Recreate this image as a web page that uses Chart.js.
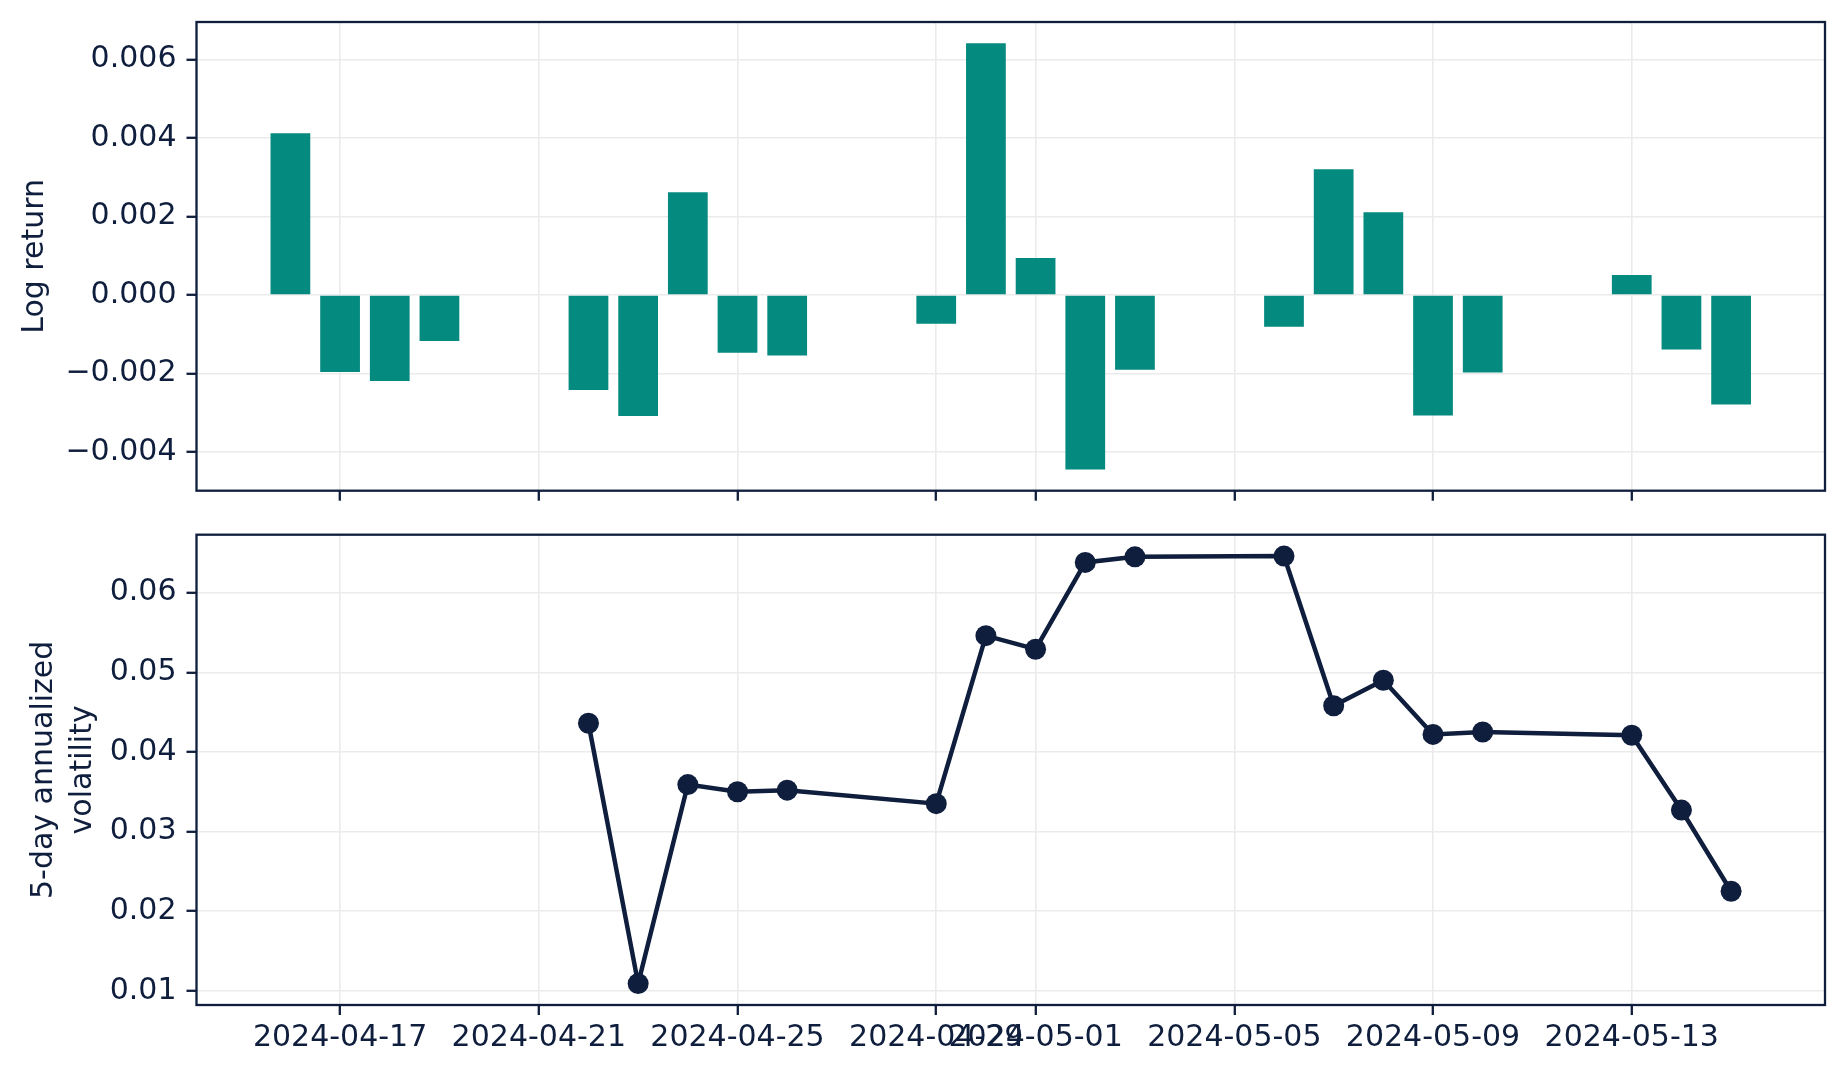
<!DOCTYPE html>
<html>
<head>
<meta charset="utf-8">
<script src="https://cdn.jsdelivr.net/npm/chart.js@4.4.1/dist/chart.umd.min.js"></script>
<style>
  body { margin: 0; background: #fff; }
  canvas { position: absolute; left: 0; }
  #returnsChart { top: 0; }
  #volChart { top: 512px; }
</style>
</head>
<body>
<canvas id="returnsChart" width="1847" height="512"></canvas>
<canvas id="volChart" width="1847" height="565"></canvas>
<script>
// trading days
const dates = [
    "2024-04-16", "2024-04-17", "2024-04-18", "2024-04-19",
    "2024-04-22", "2024-04-23", "2024-04-24", "2024-04-25", "2024-04-26",
    "2024-04-29", "2024-04-30", "2024-05-01", "2024-05-02", "2024-05-03",
    "2024-05-06", "2024-05-07", "2024-05-08", "2024-05-09", "2024-05-10",
    "2024-05-13", "2024-05-14", "2024-05-15"
];

const logReturns = [
    0.00412, -0.00196, -0.00219, -0.00117,
    -0.00242, -0.00308, 0.00262, -0.00147, -0.00154,
    -0.00073, 0.00641, 0.00094, -0.00444, -0.00190,
    -0.00081, 0.00320, 0.00211, -0.00307, -0.00197,
    0.00051, -0.00139, -0.00279
];

// 5-day window, so the first four days have no value
const volatility = [
    null, null, null, null,
    0.0436, 0.0109, 0.0359, 0.0350, 0.0352,
    0.0335, 0.0546, 0.0529, 0.0638, 0.0645,
    0.0646, 0.0458, 0.0490, 0.0422, 0.0425,
    0.0421, 0.0327, 0.0225
];

const xTickDates = ["2024-04-17", "2024-04-21", "2024-04-25", "2024-04-29", "2024-05-01", "2024-05-05", "2024-05-09", "2024-05-13"];
const returnTicks = [-0.004, -0.002, 0, 0.002, 0.004, 0.006];
const volTicks = [0.01, 0.02, 0.03, 0.04, 0.05, 0.06];

const NAVY = "#0f1e3c";
const TEAL = "#058a80";
const GRID = "#ebebeb";
const FONT = { family: "DejaVu Sans", size: 30 };

Chart.defaults.font.family = "DejaVu Sans";
Chart.defaults.color = NAVY;

// date string -> day number
function toDay(s) {
    return Date.UTC(+s.slice(0, 4), +s.slice(5, 7) - 1, +s.slice(8, 10)) / 86400000;
}

function minus(v, digits) {
    return (v < 0 ? "\u2212" : "") + Math.abs(v).toFixed(digits);
}

// axis limits the way matplotlib pads them (5%)
function padded(lo, hi) {
    const m = (hi - lo) * 0.05;
    return [lo - m, hi + m];
}

const days = dates.map(toDay);
const [xMin, xMax] = padded(days[0] - 0.4, days[days.length - 1] + 0.4);
const [rMin, rMax] = padded(Math.min(0, ...logReturns), Math.max(0, ...logReturns));
const volVals = volatility.filter(v => v !== null);
const [vMin, vMax] = padded(Math.min(...volVals), Math.max(...volVals));

const framePlugin = {
    id: "frame",
    afterDatasetsDraw(chart) {
        const { ctx, chartArea: a } = chart;
        ctx.save();
        ctx.strokeStyle = NAVY;
        ctx.lineWidth = 2.3;
        ctx.strokeRect(a.left, a.top, a.right - a.left, a.bottom - a.top);
        ctx.restore();
    }
};

function noPadding(s) {
    s.paddingTop = 0;
    s.paddingBottom = 0;
    s.paddingLeft = 0;
    s.paddingRight = 0;
}

function xAxis(showLabels, height) {
    return {
        type: "linear",
        min: xMin,
        max: xMax,
        offset: false,
        afterBuildTicks: axis => { axis.ticks = xTickDates.map(d => ({ value: toDay(d) })); },
        afterFit: s => { s.height = height; noPadding(s); },
        grid: { color: GRID, lineWidth: 1.6, offset: false, tickColor: NAVY, tickWidth: 2.3, tickLength: 10 },
        border: { display: false },
        ticks: {
            autoSkip: false,
            maxRotation: 0,
            padding: 5,
            font: FONT,
            color: NAVY,
            callback: (v, i) => showLabels ? xTickDates[i] : ""
        }
    };
}

function yAxis(min, max, tickVals, digits, title, titleTop) {
    return {
        min: min,
        max: max,
        afterBuildTicks: axis => { axis.ticks = tickVals.map(v => ({ value: v })); },
        afterFit: s => { s.width = 196.5; noPadding(s); },
        grid: { color: GRID, lineWidth: 1.6, tickColor: NAVY, tickWidth: 2.3, tickLength: 10 },
        border: { display: false },
        ticks: { padding: 10, font: FONT, color: NAVY, callback: v => minus(v, digits) },
        title: {
            display: true,
            text: title,
            color: NAVY,
            font: { family: "DejaVu Sans", size: 30, lineHeight: 1.3 },
            padding: { top: titleTop, bottom: 0 }
        }
    };
}

// Log returns (bars)
new Chart(document.getElementById("returnsChart"), {
    type: "bar",
    data: {
        datasets: [{
            data: dates.map((d, i) => ({ x: toDay(d), y: logReturns[i] })),
            backgroundColor: TEAL,
            borderWidth: 0,
            barPercentage: 0.8,
            categoryPercentage: 1.0
        }]
    },
    options: {
        responsive: false,
        devicePixelRatio: 1,
        animation: false,
        layout: { padding: { top: 22, right: 22, left: 0, bottom: 0 } },
        plugins: { legend: { display: false }, tooltip: { enabled: false } },
        scales: {
            x: xAxis(false, 21.3),
            y: yAxis(rMin, rMax, returnTicks, 3, "Log return", 16)
        }
    },
    plugins: [framePlugin]
});

// Rolling volatility (line)
new Chart(document.getElementById("volChart"), {
    type: "line",
    data: {
        datasets: [{
            data: dates.map((d, i) => ({ x: toDay(d), y: volatility[i] })),
            borderColor: NAVY,
            borderWidth: 4.5,
            pointRadius: 10.5,
            pointBackgroundColor: NAVY,
            pointBorderWidth: 0,
            tension: 0
        }]
    },
    options: {
        responsive: false,
        devicePixelRatio: 1,
        animation: false,
        layout: { padding: { top: 22.7, right: 22, left: 0, bottom: 0 } },
        plugins: { legend: { display: false }, tooltip: { enabled: false } },
        scales: {
            x: xAxis(true, 72),
            y: yAxis(vMin, vMax, volTicks, 2, ["5-day annualized", "volatility"], 24.5)
        }
    },
    plugins: [framePlugin]
});
</script>
</body>
</html>
